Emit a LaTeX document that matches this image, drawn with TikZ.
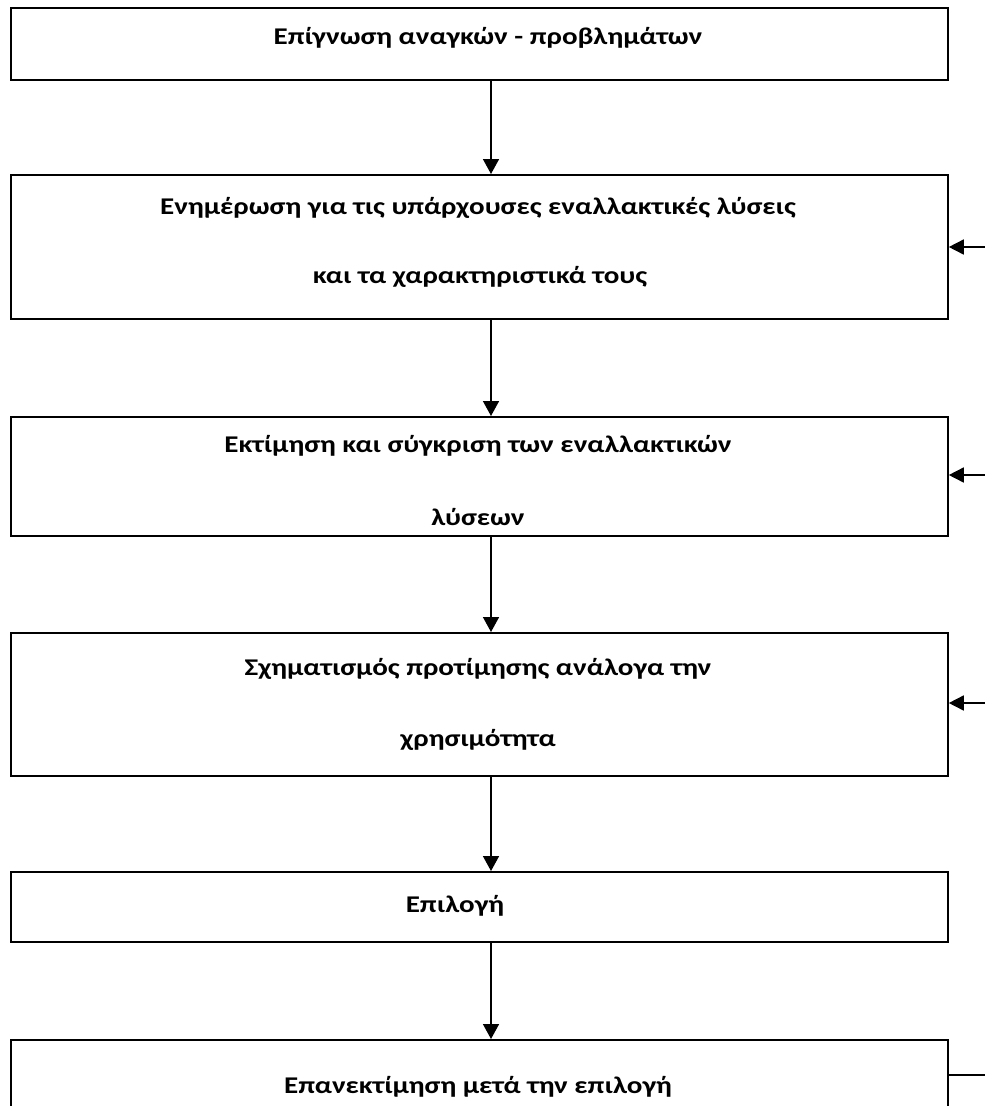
\documentclass[tikz,border=0pt]{standalone}
\usepackage{fontspec}
\setmainfont{Carlito}
\newfontfamily\stagefont[FakeStretch=1.21]{Carlito}
\usetikzlibrary{arrows.meta}
\begin{document}
\begin{tikzpicture}[x=1pt,y=-1pt,
  stage/.style={draw=black,line width=1.8pt,rectangle,minimum width=937pt,inner sep=0pt,anchor=north west},
  txt/.style={font=\stagefont\fontsize{24}{28}\selectfont\bfseries,inner sep=0pt,anchor=center},
  flow/.style={line width=1.6pt,-{Triangle[length=15pt,width=16pt]}},
  feed/.style={line width=1.6pt,-{Triangle[length=15pt,width=15pt]}}]
\useasboundingbox (0,0) rectangle (985,1106);
\clip (0,0) rectangle (985,1106);
% stages of the decision process
\node[stage,minimum height=72pt]  (b1) at (10,7) {};
\node[stage,minimum height=144pt] (b2) at (10,174) {};
\node[stage,minimum height=119pt] (b3) at (10,416) {};
\node[stage,minimum height=143pt] (b4) at (10,632) {};
\node[stage,minimum height=70pt]  (b5) at (10,871) {};
\node[stage,minimum height=72pt]  (b6) at (10,1039) {};
% labels
\node[txt] (t1)  at (488,38)  {Επίγνωση αναγκών - προβλημάτων};
\node[txt] (t2a) at (478,208) {Ενημέρωση για τις υπάρχουσες εναλλακτικές λύσεις};
\node[txt] (t2b) at (480,277) {και τα χαρακτηριστικά τους};
\node[txt] (t3a) at (478,446) {Εκτίμηση και σύγκριση των εναλλακτικών};
\node[txt] (t3b) at (478,517) {λύσεων};
\node[txt] (t4a) at (478,669) {Σχηματισμός προτίμησης ανάλογα την};
\node[txt] (t4b) at (478,740) {χρησιμότητα};
\node[txt] (t5)  at (455,906) {Επιλογή};
\node[txt] (t6)  at (478,1087) {Επανεκτίμηση μετά την επιλογή};
% main flow
\coordinate (ax) at (491,0);
\draw[flow] (b1.south -| ax) -- (b2.north -| ax);
\draw[flow] (b2.south -| ax) -- (b3.north -| ax);
\draw[flow] (b3.south -| ax) -- (b4.north -| ax);
\draw[flow] (b4.south -| ax) -- (b5.north -| ax);
\draw[flow] (b5.south -| ax) -- (b6.north -| ax);
% feedback from re-evaluation
\coordinate (r6) at (985,1075);
\coordinate (r2) at (985,247);
\coordinate (r3) at (985,475);
\coordinate (r4) at (985,703);
\draw[line width=1.6pt] (r6 -| b6.east) -- (r6);
\draw[feed] (r2) -- (r2 -| b2.east);
\draw[feed] (r3) -- (r3 -| b3.east);
\draw[feed] (r4) -- (r4 -| b4.east);
\end{tikzpicture}
\end{document}
